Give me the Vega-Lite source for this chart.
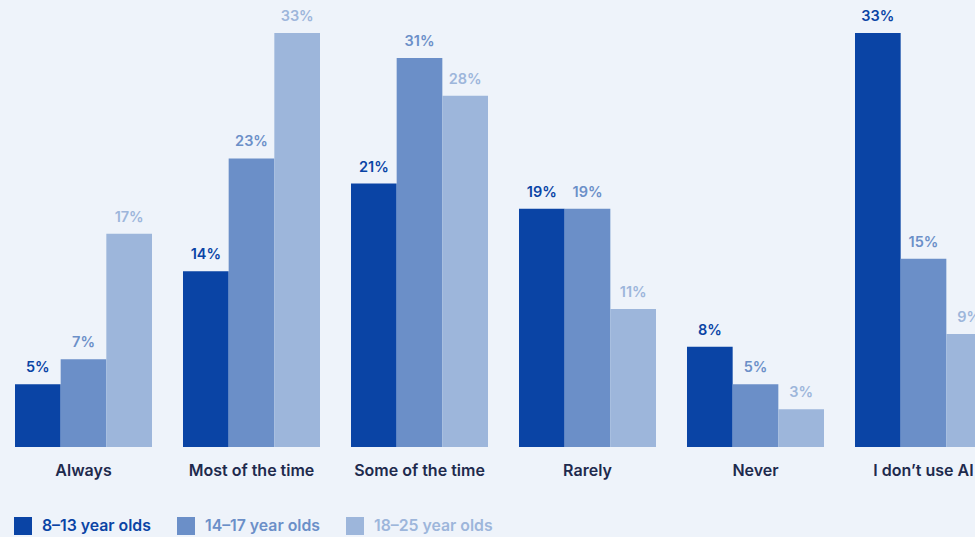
{
  "$schema": "https://vega.github.io/schema/vega-lite/v6.json",
  "width": 975,
  "height": 414,
  "autosize": {"type": "none"},
  "padding": {"left": 0, "top": 33, "right": 0, "bottom": 90},
  "background": "#eef3fa",
  "config": {
    "view": {"stroke": null},
    "font": "Inter"
  },
  "data": {
    "values": [
      {"category": "Always", "group": "8–13 year olds", "value": 0.05},
      {"category": "Always", "group": "14–17 year olds", "value": 0.07},
      {"category": "Always", "group": "18–25 year olds", "value": 0.17},
      {"category": "Most of the time", "group": "8–13 year olds", "value": 0.14},
      {"category": "Most of the time", "group": "14–17 year olds", "value": 0.23},
      {"category": "Most of the time", "group": "18–25 year olds", "value": 0.33},
      {"category": "Some of the time", "group": "8–13 year olds", "value": 0.21},
      {"category": "Some of the time", "group": "14–17 year olds", "value": 0.31},
      {"category": "Some of the time", "group": "18–25 year olds", "value": 0.28},
      {"category": "Rarely", "group": "8–13 year olds", "value": 0.19},
      {"category": "Rarely", "group": "14–17 year olds", "value": 0.19},
      {"category": "Rarely", "group": "18–25 year olds", "value": 0.11},
      {"category": "Never", "group": "8–13 year olds", "value": 0.08},
      {"category": "Never", "group": "14–17 year olds", "value": 0.05},
      {"category": "Never", "group": "18–25 year olds", "value": 0.03},
      {"category": "I don’t use AI", "group": "8–13 year olds", "value": 0.33},
      {"category": "I don’t use AI", "group": "14–17 year olds", "value": 0.15},
      {"category": "I don’t use AI", "group": "18–25 year olds", "value": 0.09}
    ]
  },
  "encoding": {
    "x": {
      "field": "category",
      "type": "nominal",
      "sort": null,
      "scale": {"range": [15, 992], "paddingInner": 0.1845, "paddingOuter": 0},
      "axis": {
        "title": null,
        "domain": false,
        "ticks": false,
        "labelAngle": 0,
        "labelPadding": 15,
        "labelFontSize": 16,
        "labelFontWeight": 600,
        "labelColor": "#1e2a4d",
        "labelFont": "Inter"
      }
    },
    "xOffset": {
      "field": "group",
      "type": "nominal",
      "sort": ["8–13 year olds", "14–17 year olds", "18–25 year olds"],
      "scale": {"paddingInner": 0, "paddingOuter": 0}
    },
    "y": {
      "field": "value",
      "type": "quantitative",
      "scale": {"domain": [0, 0.33], "nice": false, "zero": true},
      "axis": null
    },
    "color": {
      "field": "group",
      "type": "nominal",
      "sort": ["8–13 year olds", "14–17 year olds", "18–25 year olds"],
      "scale": {
        "domain": ["8–13 year olds", "14–17 year olds", "18–25 year olds"],
        "range": ["#0a44a5", "#6b8fc8", "#9db6db"]
      },
      "legend": {
        "title": null,
        "orient": "none",
        "direction": "horizontal",
        "legendX": 14,
        "legendY": 484,
        "symbolType": "square",
        "symbolSize": 324,
        "symbolStrokeWidth": 0,
        "symbolOpacity": 1,
        "labelFontSize": 15.8,
        "labelFontWeight": 600,
        "labelFont": "Inter",
        "labelOffset": 10,
        "columnPadding": 26,
        "labelLimit": 300,
        "encode": {
          "labels": {"update": {"fill": {"signal": "scale('color', datum.value)"}}}
        }
      }
    }
  },
  "layer": [
    {"mark": {"type": "bar", "width": {"band": 1}}},
    {
      "mark": {"type": "text", "baseline": "bottom", "dy": -9, "fontSize": 14.5, "fontWeight": 600, "font": "Inter"},
      "encoding": {
        "text": {"field": "value", "type": "quantitative", "format": ".0%"}
      }
    }
  ]
}
